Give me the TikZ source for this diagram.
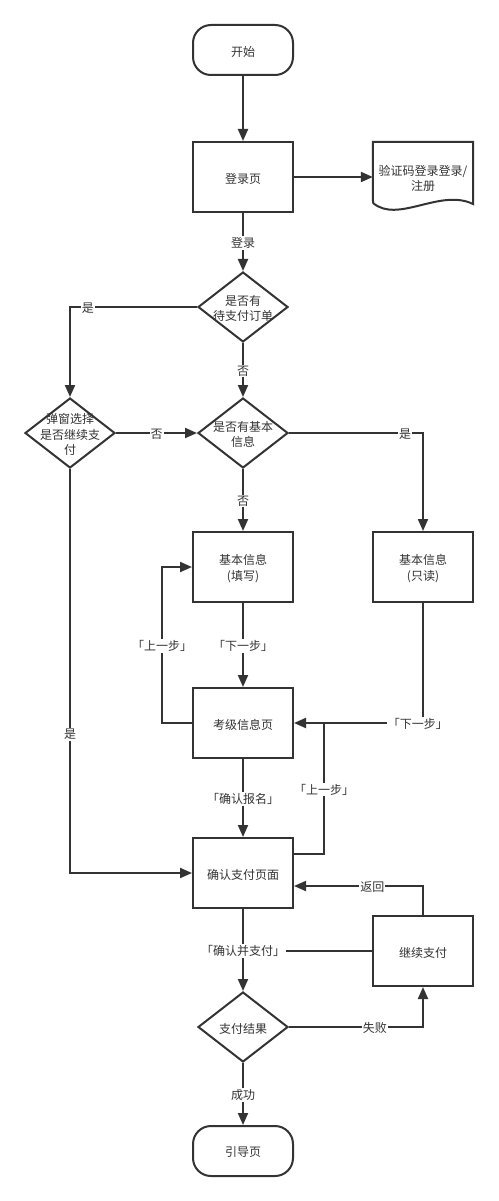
\documentclass[tikz,border=0pt]{standalone}
\usepackage{fontspec}
\setmainfont{Noto Sans CJK SC}
\usetikzlibrary{shapes.geometric,arrows.meta}
\definecolor{ink}{HTML}{333333}
\begin{document}
\begin{tikzpicture}[x=1pt,y=-1pt,
  every node/.style={font=\fontsize{12}{15.5}\selectfont, text=ink},
  line/.style={draw=ink, line width=2pt},
  arr/.style={line, -{Triangle[length=12pt,width=10pt]}},
  txt/.style={label={[align=center,yshift=-1.5pt]center:#1}},
  box/.style={draw=ink, line width=2pt, minimum width=100pt, minimum height=70pt, fill=white, inner sep=0pt},
  term/.style={box, minimum height=50pt, rounded corners=18pt},
  dia/.style={draw=ink, line width=2pt, diamond, minimum width=90pt, minimum height=70pt, inner sep=0pt},
  lab/.style={fill=white, inner sep=1pt, yshift=-1pt},
]
\useasboundingbox (0,0) rectangle (498,1201);

\node[term, txt={开始}] (start) at (243,50) {};
\node[box, txt={登录页}] (login) at (243,177) {};
\node[minimum width=100pt, minimum height=70pt, inner sep=0pt, txt={验证码登录登录/\\注册}] (doc) at (423,177) {};
\draw[line] (373,203) -- (doc.north west) -- (doc.north east) -- (473,204)
  .. controls (440,188) and (398,224) .. (373,203);
\node[dia, txt={是否有\\待支付订单}] (d1) at (243,307) {};
\node[dia, txt={弹窗选择\\是否继续支\\付}] (d0) at (70,433) {};
\node[dia, txt={是否有基本\\信息}] (d2) at (243,433) {};
\node[box, txt={基本信息\\(填写)}] (fill) at (243,567) {};
\node[box, txt={基本信息\\(只读)}] (ro) at (423,567) {};
\node[box, txt={考级信息页}] (grade) at (243,723) {};
\node[box, txt={确认支付页面}] (pay) at (243,873) {};
\node[box, txt={继续支付}] (cont) at (423,951) {};
\node[dia, txt={支付结果}] (res) at (243,1027) {};
\node[term, txt={引导页}] (end) at (243,1151) {};

\draw[arr] (start) -- (login);
\draw[arr] (login) -- (doc.west);
\draw[arr] (login) -- node[lab]{登录} (d1);
\draw[arr] (d1.west) -| node[lab,pos=0.43]{是} (d0.north);
\draw[arr] (d1) -- node[lab]{否} (d2);
\draw[arr] (d0) -- node[lab]{否} (d2);
\draw[arr] (d2.east) -| node[lab,pos=0.433]{是} (ro.north);
\draw[arr] (d2) -- node[lab]{否} (fill);
\draw[arr] (d0.south) |- node[lab,pos=0.327]{是} (pay.west);
\draw[arr] (fill) -- node[lab]{「下一步」} (grade);
\draw[arr] (grade.west) -- ++(-30,0) |- node[lab,pos=0.25]{「上一步」} (fill.west);
\draw[arr] (ro.south) |- node[lab,pos=0.52]{「下一步」} (grade.east);
\draw[arr] (grade) -- node[lab]{「确认报名」} (pay);
\draw[line] ([yshift=19pt]pay.east) -- ++(30,0) coordinate (c) -- node[lab]{「上一步」} (c |- grade.east);
\draw[line] (cont.west) -- (pay.south |- cont.west);
\draw[arr] (pay) -- node[lab]{「确认并支付」} (res);
\draw[arr] (res.east) -| node[lab,pos=0.32]{失败} (cont.south);
\draw[arr] (cont.north) |- node[lab,pos=0.696]{返回} ([yshift=-13pt]pay.east);
\draw[arr] (res) -- node[lab]{成功} (end);
\end{tikzpicture}
\end{document}
